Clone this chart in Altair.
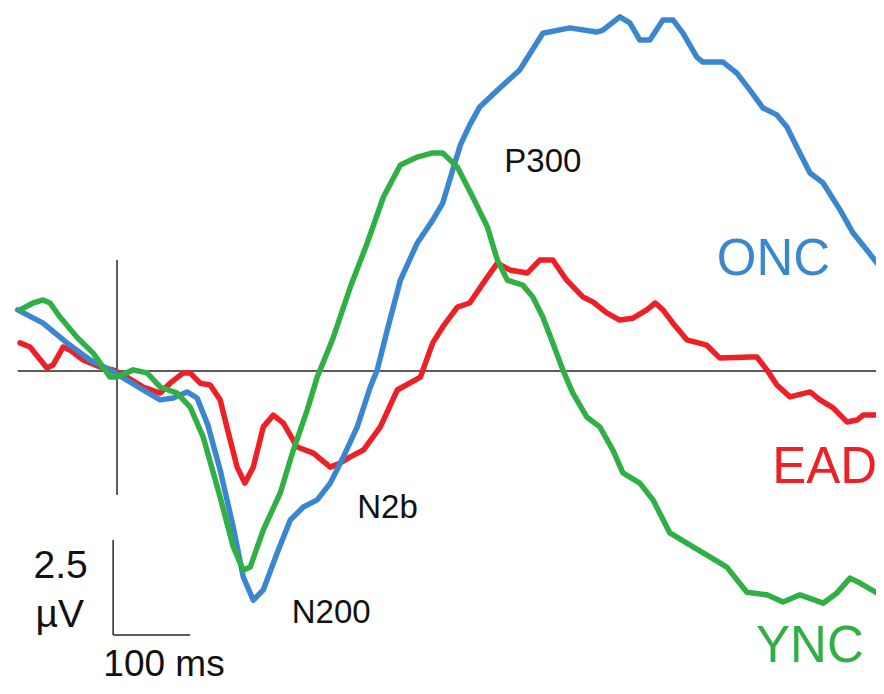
import altair as alt
import pandas as pd

# ---- waveform data: time (ms) and amplitude (µV), positive up ----
onc_ms = [-129, -96, -65, -35, -9, 13, 34, 56, 73, 91, 104, 118, 134, 151, 164, 177, 190, 208, 225, 242,
          260, 277, 294, 312, 329, 338, 351, 368, 390, 410, 423, 436, 446, 458, 471, 494, 523, 553, 588, 623,
          631, 653, 666, 679, 692, 709, 722, 735, 753, 761, 787, 805, 822, 839, 857, 870, 883, 900, 917, 939,
          956, 974, 987]
onc_uv = [1.61, 1.26, 0.74, 0.29, 0.03, -0.24, -0.50, -0.76, -0.71, -0.55, -0.71, -1.42, -2.61, -4.11, -5.42,
          -6.03, -5.76, -4.79, -3.92, -3.58, -3.39, -2.95, -2.26, -1.47, -0.42, 0.03, 1.08, 2.39, 3.37, 3.97,
          4.42, 5.29, 5.95, 6.47, 6.95, 7.39, 7.92, 8.89, 9.03, 8.92, 8.97, 9.32, 9.16, 8.71, 8.71, 9.24, 9.24,
          8.89, 8.26, 8.13, 8.13, 7.84, 7.39, 6.92, 6.74, 6.42, 5.89, 5.21, 4.95, 4.24, 3.63, 3.18, 2.84]

ync_ms = [-126, -109, -96, -87, -74, -52, -31, -9, 0, 21, 39, 56, 78, 95, 112, 134, 151, 164, 173, 190,
          212, 229, 247, 260, 281, 303, 325, 346, 368, 390, 410, 423, 442, 462, 481, 494, 507, 527, 540, 553,
          566, 579, 592, 610, 627, 644, 657, 679, 696, 718, 740, 770, 792, 818, 844, 865, 887, 917, 935, 952,
          965, 987]
ync_uv = [1.61, 1.79, 1.87, 1.79, 1.42, 0.89, 0.47, -0.16, -0.16, 0.03, -0.05, -0.42, -0.58, -0.95, -1.74,
          -3.32, -4.63, -5.24, -5.16, -4.18, -3.21, -2.08, -1.03, -0.16, 0.89, 2.21, 3.37, 4.58, 5.42, 5.63,
          5.74, 5.74, 5.37, 4.58, 3.79, 2.92, 2.39, 2.26, 1.95, 1.42, 0.74, 0.03, -0.58, -1.21, -1.47, -2.08,
          -2.68, -2.95, -3.39, -4.26, -4.53, -4.89, -5.16, -5.82, -5.89, -6.08, -5.89, -6.11, -5.84, -5.45,
          -5.58, -5.84]

ead_ms = [-126, -113, -91, -83, -70, -61, -44, -22, -5, 13, 34, 56, 69, 86, 95, 108, 121, 134, 142, 156,
          166, 177, 190, 203, 216, 234, 255, 277, 290, 303, 320, 342, 364, 394, 410, 423, 442, 458, 481, 494,
          510, 533, 549, 566, 584, 605, 618, 636, 653, 670, 688, 699, 709, 722, 740, 766, 783, 822, 831, 844,
          857, 874, 900, 913, 930, 948, 961, 969, 987]
ead_uv = [0.74, 0.63, 0.08, 0.16, 0.63, 0.55, 0.29, 0.11, 0.03, -0.16, -0.42, -0.58, -0.32, -0.05, -0.05,
          -0.32, -0.37, -0.76, -1.42, -2.53, -2.95, -2.53, -1.47, -1.16, -1.37, -2.00, -2.16, -2.53, -2.42,
          -2.26, -2.08, -1.47, -0.50, -0.16, 0.74, 1.16, 1.68, 1.79, 2.47, 2.84, 2.66, 2.58, 2.92, 2.92, 2.39,
          1.95, 1.82, 1.53, 1.34, 1.39, 1.61, 1.79, 1.61, 1.26, 0.82, 0.68, 0.34, 0.37, 0.37, 0.03, -0.37,
          -0.68, -0.55, -0.76, -0.97, -1.34, -1.29, -1.16, -1.16]

# ---- reference lines and scale bar (ms, µV) ----
baseline_ms = [-129, 995]
stim_uv = [2.92, -3.26]
bar_ms = [-5, 95]
bar_uv = [-4.45, -6.95]

# ---- labels ----
group_text = ["ONC", "EAD", "YNC"]
group_ms = [779, 851, 830]
group_uv = [2.53, -2.95, -7.66]
group_color = ["#3a87d0", "#ee2026", "#30b044"]

comp_text = ["P300", "N2b", "N200"]
comp_ms = [503, 312, 227]
comp_uv = [5.24, -3.87, -6.63]

scale_text = ["2.5", "µV"]
scale_ms = [-38, -43]
scale_uv = [-5.45, -6.74]
time_text = ["100 ms"]
time_ms = [61]
time_uv = [-8.02]

FONT = "Liberation Sans"
X = alt.Scale(domain=[-141.56, 985.71], nice=False, zero=False)
Y = alt.Scale(domain=[-8.289, 9.553], nice=False, zero=False)


def xe(field):
    return alt.X(f"{field}:Q", scale=X, axis=None)


def ye(field):
    return alt.Y(f"{field}:Q", scale=Y, axis=None)


def wave(ms, uv, color):
    df = pd.DataFrame({"t": ms, "v": uv})
    return alt.Chart(df).mark_line(color=color, strokeWidth=5.5, strokeJoin="round",
                                   strokeCap="round").encode(x=xe("t"), y=ye("v"))


ink = "#262626"
hline = alt.Chart(pd.DataFrame({"t": [baseline_ms[0]], "t2": [baseline_ms[1]], "v": [0.0]})).mark_rule(
    color=ink, strokeWidth=1.5).encode(x=xe("t"), x2="t2:Q", y=ye("v"))
vline = alt.Chart(pd.DataFrame({"t": [0.0], "v": [stim_uv[0]], "v2": [stim_uv[1]]})).mark_rule(
    color=ink, strokeWidth=1.5).encode(x=xe("t"), y=ye("v"), y2="v2:Q")
bar_v = alt.Chart(pd.DataFrame({"t": [bar_ms[0]], "v": [bar_uv[0]], "v2": [bar_uv[1]]})).mark_rule(
    color=ink, strokeWidth=1.5).encode(x=xe("t"), y=ye("v"), y2="v2:Q")
bar_h = alt.Chart(pd.DataFrame({"t": [bar_ms[0]], "t2": [bar_ms[1]], "v": [bar_uv[1]]})).mark_rule(
    color=ink, strokeWidth=1.5).encode(x=xe("t"), x2="t2:Q", y=ye("v"))

gdf = pd.DataFrame({"text": group_text, "t": group_ms, "v": group_uv, "c": group_color})
glabels = alt.Chart(gdf).mark_text(font=FONT, fontSize=51, align="left", baseline="alphabetic").encode(
    x=xe("t"), y=ye("v"), text="text:N", color=alt.Color("c:N", scale=None))

cdf = pd.DataFrame({"text": comp_text, "t": comp_ms, "v": comp_uv})
clabels = alt.Chart(cdf).mark_text(font=FONT, fontSize=33, align="left", baseline="alphabetic",
                                   color="#111111").encode(x=xe("t"), y=ye("v"), text="text:N")

sdf = pd.DataFrame({"text": scale_text, "t": scale_ms, "v": scale_uv})
slabels = alt.Chart(sdf).mark_text(font=FONT, fontSize=39, align="right", baseline="alphabetic",
                                   color="#111111").encode(x=xe("t"), y=ye("v"), text="text:N")

tdf = pd.DataFrame({"text": time_text, "t": time_ms, "v": time_uv})
tlabels = alt.Chart(tdf).mark_text(font=FONT, fontSize=37, align="center", baseline="alphabetic",
                                   color="#111111").encode(x=xe("t"), y=ye("v"), text="text:N")

chart = alt.layer(
    hline, vline, bar_v, bar_h,
    wave(ead_ms, ead_uv, "#ee2026"),
    wave(onc_ms, onc_uv, "#3a87d0"),
    wave(ync_ms, ync_uv, "#30b044"),
    glabels, clabels, slabels, tlabels,
).properties(width=868, height=678, padding=0, autosize="none", background="white").configure_view(
    stroke=None)

chart.save("out.html", embed_options={"renderer": "svg", "actions": False})
